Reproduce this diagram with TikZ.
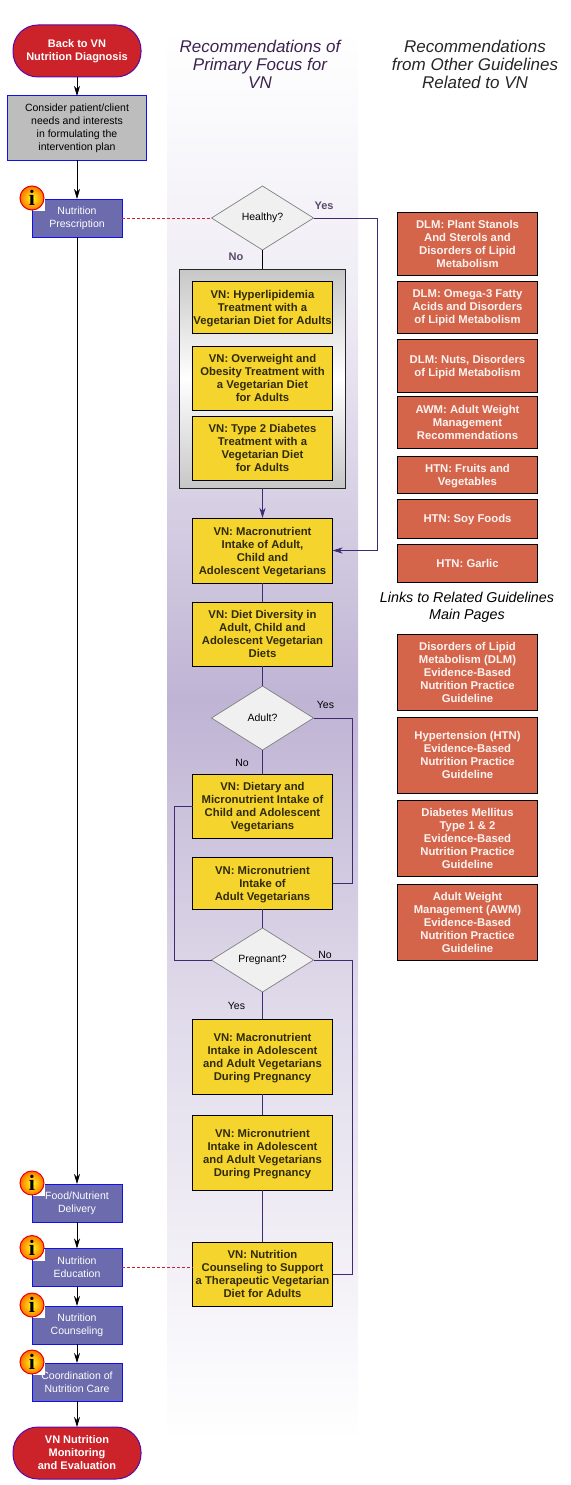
\documentclass[tikz,border=0pt]{standalone}
\usepackage{fontspec}
\setmainfont{Liberation Sans}
\newfontfamily\iconfont{Liberation Serif}
\usetikzlibrary{arrows.meta,calc,shapes.geometric}
\definecolor{vnred}{HTML}{CC2229}
\definecolor{vnblue}{HTML}{1010F0}
\definecolor{vnslate}{HTML}{6B6BAD}
\definecolor{vnyellow}{HTML}{F5D52D}
\definecolor{vnbrick}{HTML}{D4654B}
\definecolor{vnline}{HTML}{3F2A73}
\definecolor{vnband}{HTML}{BFB4D4}
\definecolor{vnhead}{HTML}{3C2350}
\definecolor{vnlabel}{HTML}{5A4A6A}
\tikzset {
  >={Stealth[length=10pt,width=6pt,inset=3pt]},
  every node/.style={font=\fontsize{10.5}{13}\selectfont,align=center,inner sep=0pt,outer sep=0pt},
  terminal/.style={draw=vnblue!70!red,fill=vnred,text=white,line width=1pt,rounded corners=25pt,
    minimum width=128pt,minimum height=52pt,font=\fontsize{11}{13}\selectfont\bfseries},
  notebox/.style={draw=vnblue,fill=black!26,line width=1pt,minimum width=139pt,minimum height=64pt},
  nutbox/.style={draw=vnblue,fill=vnslate,text=white,line width=1pt,minimum width=90pt,minimum height=38pt},
  recbox/.style={draw=black,fill=vnyellow,text=black!80!vnyellow,line width=.8pt,minimum width=140pt,
    text depth=-1pt,font=\fontsize{11.3}{13}\selectfont\bfseries},
  linkbox/.style={draw=black,fill=vnbrick,text=white!92!vnbrick,line width=.8pt,minimum width=140pt,
    text depth=-1pt,font=\fontsize{11.3}{13}\selectfont\bfseries},
  choice/.style={diamond,draw=black!50,fill=black!6,line width=.7pt,minimum width=102pt,minimum height=64pt},
  header/.style={font=\fontsize{17}{18}\selectfont\itshape},
  flow/.style={black,line width=.8pt},
  link/.style={vnline,line width=.8pt},
  crossref/.style={vnred,densely dashed,line width=.6pt},
  infoback/.style={fill=white,minimum size=12pt},
  infoicon/.style={circle,draw=red!90!black,line width=1pt,text=black,inner color=yellow!90!white,
    outer color=orange!90!red,minimum size=24pt,font=\iconfont\fontsize{22}{22}\selectfont\bfseries},
}

\begin{document}
\begin{tikzpicture}[x=1pt,y=-1pt]
  \useasboundingbox (0,0) rectangle (570,1485);
  % background band
  \shade[top color=white,bottom color=vnband!25!white] (167,30) rectangle (358,300);
  \shade[top color=vnband!25!white,bottom color=vnband] (167,300) rectangle (358,700);
  \shade[top color=vnband,bottom color=vnband!50!white] (167,700) rectangle (358,1000);
  \shade[top color=vnband!50!white,bottom color=white] (167,1000) rectangle (358,1440);
  \node[header,text=vnhead] (headprimary) at (260,64) {Recommendations of\\Primary Focus for\\VN};
  \node[header,text=black!85] (headother) at (475,64) {Recommendations\\from Other Guidelines\\Related to VN};
  \node[header,font=\fontsize{14.3}{17}\selectfont\itshape] (headlinks) at (467,607) {Links to Related Guidelines\\Main Pages};
  % left column
  \node[terminal] (backvn) at (77,51) {Back to VN\\Nutrition Diagnosis};
  \node[notebox] (consider) at (77,128) {Consider patient/client\\needs and interests\\in formulating the\\intervention plan};
  \node[nutbox] (prescription) at (77,218) {Nutrition\\Prescription};
  \node[nutbox] (delivery) at (77,1203) {Food/Nutrient\\Delivery};
  \node[nutbox] (education) at (77,1267.5) {Nutrition\\Education};
  \node[nutbox] (counseling) at (77,1325) {Nutrition\\Counseling};
  \node[nutbox] (coordination) at (77,1382) {Coordination of\\Nutrition Care};
  \node[terminal] (monitoring) at (77,1453) {VN Nutrition\\Monitoring\\and Evaluation};
  \foreach \nutname in {prescription,delivery,education,counseling,coordination} {
    \node[infoback] (\nutname back) at ($(\nutname.north west)+(7,6)$) {};
    \node[infoicon] (\nutname icon) at ($(\nutname.north west)+(0,-1)$) {i};
  }
  % middle column
  \node[choice] (healthy) at (262.5,218) {Healthy?};
  \draw[draw=black!85,line width=1pt,top color=black!22,bottom color=black!22,middle color=white]
    (179,269) rectangle (345,488);
  \node[recbox,minimum height=52pt] (hyper) at (262.5,307) {VN: Hyperlipidemia\\Treatment with a\\Vegetarian Diet for Adults};
  \node[recbox,minimum height=64pt] (overweight) at (262.5,378) {VN: Overweight and\\Obesity Treatment with\\a Vegetarian Diet\\for Adults};
  \node[recbox,minimum height=64pt] (diabetes) at (262.5,448) {VN: Type 2 Diabetes\\Treatment with a\\Vegetarian Diet\\for Adults};
  \coordinate (groupnorth) at (262.5,269);
  \coordinate (groupsouth) at (262.5,488);
  \node[recbox,minimum height=65pt] (macro) at (262.5,550.5) {VN: Macronutrient\\Intake of Adult,\\Child and\\Adolescent Vegetarians};
  \node[recbox,minimum height=64pt] (diversity) at (262.5,634) {VN: Diet Diversity in\\Adult, Child and\\Adolescent Vegetarian\\Diets};
  \node[choice] (adult) at (262.5,718) {Adult?};
  \node[recbox,minimum height=64pt] (dietary) at (262.5,806) {VN: Dietary and\\Micronutrient Intake of\\Child and Adolescent\\Vegetarians};
  \node[recbox,minimum height=52pt] (microadult) at (262.5,883) {VN: Micronutrient\\Intake of\\Adult Vegetarians};
  \node[choice] (pregnant) at (262.5,960) {Pregnant?};
  \node[recbox,minimum height=75pt] (macropreg) at (262.5,1056.5) {VN: Macronutrient\\Intake in Adolescent\\and Adult Vegetarians\\During Pregnancy};
  \node[recbox,minimum height=75pt] (micropreg) at (262.5,1152.5) {VN: Micronutrient\\Intake in Adolescent\\and Adult Vegetarians\\During Pregnancy};
  \node[recbox,minimum height=64pt] (therapeutic) at (262.5,1274) {VN: Nutrition\\Counseling to Support\\a Therapeutic Vegetarian\\Diet for Adults};
  % right column
  \node[linkbox,minimum height=63pt] (stanols) at (467.5,243.5) {DLM: Plant Stanols\\And Sterols and\\Disorders of Lipid\\Metabolism};
  \node[linkbox,minimum height=52pt] (omega) at (467.5,307) {DLM: Omega-3 Fatty\\Acids and Disorders\\of Lipid Metabolism};
  \node[linkbox,minimum height=53pt] (nuts) at (467.5,365.5) {DLM: Nuts, Disorders\\of Lipid Metabolism};
  \node[linkbox,minimum height=52pt] (weight) at (467.5,422) {AWM: Adult Weight\\Management\\Recommendations};
  \node[linkbox,minimum height=37pt] (fruits) at (467.5,474.5) {HTN: Fruits and\\Vegetables};
  \node[linkbox,minimum height=39pt] (soy) at (467.5,518.5) {HTN: Soy Foods};
  \node[linkbox,minimum height=38pt] (garlic) at (467.5,563) {HTN: Garlic};
  \node[linkbox,minimum height=76pt] (mainlipid) at (467.5,672) {Disorders of Lipid\\Metabolism (DLM)\\Evidence-Based\\Nutrition Practice\\Guideline};
  \node[linkbox,minimum height=76pt] (mainhtn) at (467.5,755) {Hypertension (HTN)\\Evidence-Based\\Nutrition Practice\\Guideline};
  \node[linkbox,minimum height=76pt] (maindm) at (467.5,838) {Diabetes Mellitus\\Type 1 \& 2\\Evidence-Based\\Nutrition Practice\\Guideline};
  \node[linkbox,minimum height=76pt] (mainawm) at (467.5,922) {Adult Weight\\Management (AWM)\\Evidence-Based\\Nutrition Practice\\Guideline};
  % labels
  \node[text=vnlabel,font=\fontsize{11}{13}\selectfont\bfseries] (healthyyes) at (324,206) {Yes};
  \node[text=vnlabel,font=\fontsize{11}{13}\selectfont\bfseries] (healthyno) at (236,257) {No};
  \node (adultyes) at (325.5,705) {Yes};
  \node (adultno) at (242,763) {No};
  \node (pregnantno) at (325,955) {No};
  \node (pregnantyes) at (236.5,1006) {Yes};
  % connectors
  \draw[flow,->] (backvn) -- (consider);
  \draw[flow,->] (consider) -- (prescription);
  \draw[flow,->] (prescription) -- (delivery);
  \draw[flow,->] (delivery) -- (education);
  \draw[flow,->] (education) -- (counseling);
  \draw[flow,->] (counseling) -- (coordination);
  \draw[flow,->] (coordination) -- (monitoring);
  \draw[crossref] (prescription) -- (healthy);
  \draw[crossref] (education.east) -- (education.east -| therapeutic.west);
  \draw[flow] (healthy) -- (groupnorth);
  \draw[link,->] (healthy.east) -- ++(64,0) |- (macro.east);
  \draw[link,->] (groupsouth) -- (macro);
  \draw[link] (macro) -- (diversity);
  \draw[link] (diversity) -- (adult);
  \draw[link] (adult) -- (dietary);
  \draw[link] (adult.east) -- ++(39,0) |- (microadult.east);
  \draw[link] (dietary.west) -- ++(-18,0) |- (pregnant.west);
  \draw[link] (microadult) -- (pregnant);
  \draw[link] (pregnant) -- (macropreg);
  \draw[link] (pregnant.east) -- ++(39,0) |- (therapeutic.east);
  \draw[link] (macropreg) -- (micropreg);
  \draw[link] (micropreg) -- (therapeutic);
\end{tikzpicture}
\end{document}
